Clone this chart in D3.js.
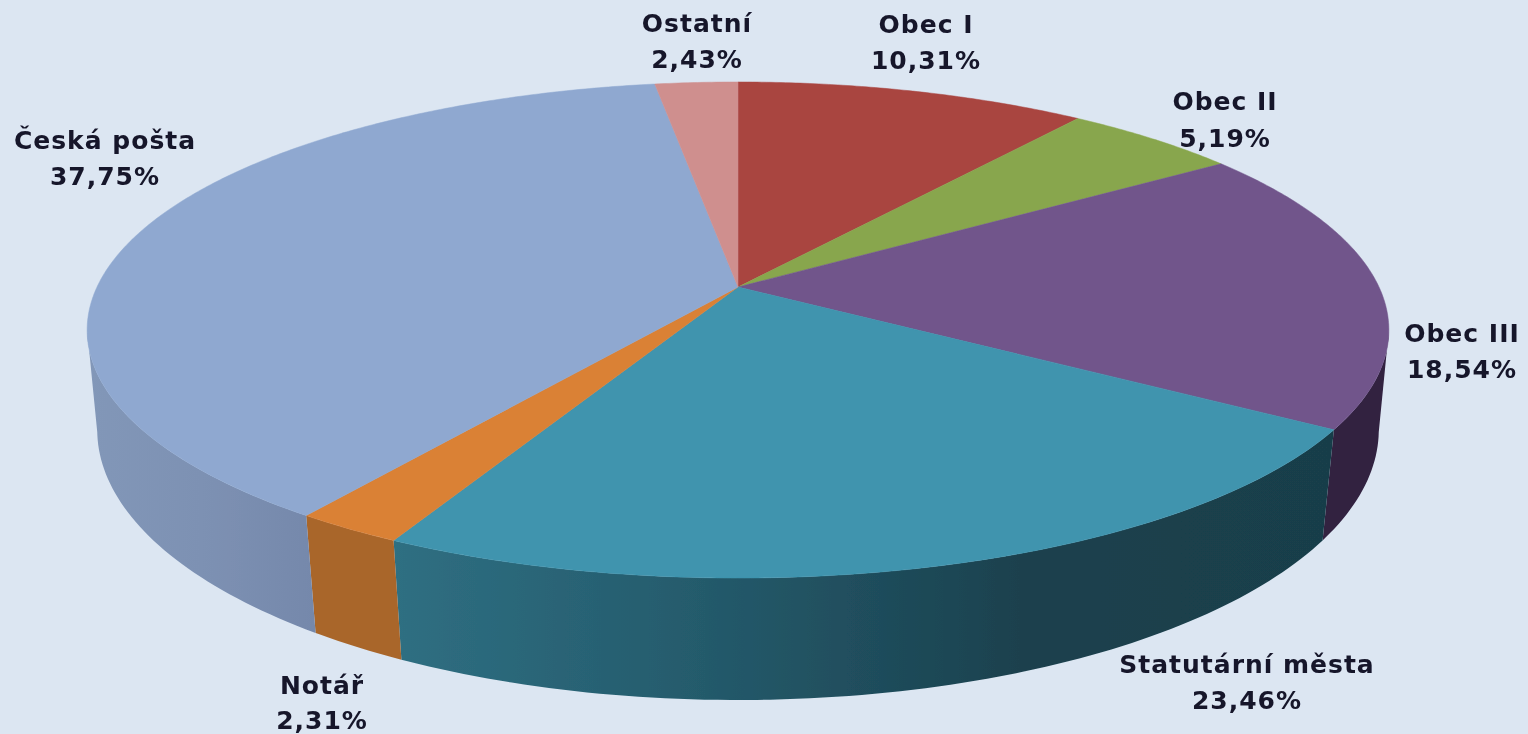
<!DOCTYPE html>
<html>
<head>
<meta charset="utf-8">
<script src="https://cdn.jsdelivr.net/npm/d3@7"></script>
<style>
	html, body { margin: 0; padding: 0; background: #dce6f2; overflow: hidden; }
	svg { display: block; }
	text { font-family: "DejaVu Sans", sans-serif; font-weight: bold; font-size: 25px; letter-spacing: 1px; fill: #15152a; text-anchor: middle; }
</style>
</head>
<body>
<div id="chart"></div>
<script>
// values, clockwise from 12 o'clock
const categories = ["Obec I", "Obec II", "Obec III", "Statutární města", "Notář", "Česká pošta", "Ostatní"];
const shares = [10.31, 5.19, 18.54, 23.46, 2.31, 37.75, 2.43];
const shareLabels = ["10,31%", "5,19%", "18,54%", "23,46%", "2,31%", "37,75%", "2,43%"];

const topColors = ["#a94441", "#88a64d", "#71558b", "#3f94ae", "#da8136", "#8fa8d0", "#cf8f8e"];
// wall shading, left to right across each slice
const wallColors = [
	["#6a2a28", "#6a2a28"],
	["#55682f", "#55682f"],
	["#30203f", "#30203f"],
	["#2f6f82", "#245a6b", "#1b414e", "#193e4a"],
	["#a9662b", "#a9662b"],
	["#8297b8", "#7d91b3", "#7588ab"],
	["#815958", "#815958"]
];

// where each label sits: centre x, first baseline, second baseline
const labelSpots = [
	[926, 33, 69], [1225, 110, 147], [1462, 342, 378], [1247, 673, 709],
	[322, 694, 729], [105, 149, 185], [697, 32, 68]
];

const width = 1528, height = 734;
const cx = 738;

// the disc is tilted, so both rims are a circle seen through a perspective
const topRim = { r: 641, c: -0.1734, a: 190.8, b: 287 };
const bottomRim = { r: 632, c: -0.165, a: 199.4, b: 385.1 };

function project(rim, u, v) {
	const w = 1 + rim.c * v;
	return [cx + rim.r * u / w, (rim.a * v + rim.b) / w];
}
function onRim(rim, angle) {
	return project(rim, Math.sin(angle), -Math.cos(angle));
}

const svg = d3.select("#chart").append("svg")
	.attr("width", width)
	.attr("height", height);

const defs = svg.append("defs");
defs.append("filter")
	.attr("id", "soft")
	.append("feGaussianBlur")
	.attr("stdDeviation", 0.55);

const pie = d3.pie().sort(null).value(d => d)
	.startAngle(0).endAngle(2 * Math.PI);
const slices = pie(shares);

const line = d3.line();
const step = Math.PI / 180;
const disc = svg.append("g").attr("filter", "url(#soft)");

// Side wall first, from the widest point on the right round to the one on the left
const wallFrom = 100 * step, wallTo = 260 * step;
slices.forEach((s, i) => {
	const a0 = Math.max(s.startAngle, wallFrom);
	const a1 = Math.min(s.endAngle, wallTo);
	if (a1 <= a0) return;

	const angles = d3.range(a0, a1, step).concat([a1]);
	const upper = angles.map(a => onRim(topRim, a));
	const lower = angles.map(a => onRim(bottomRim, a)).reverse();
	const pts = upper.concat(lower);

	const grad = defs.append("linearGradient")
		.attr("id", "wall" + i)
		.attr("gradientUnits", "userSpaceOnUse")
		.attr("x1", d3.min(pts, p => p[0])).attr("y1", 0)
		.attr("x2", d3.max(pts, p => p[0])).attr("y2", 0);
	wallColors[i].forEach((c, k) => {
		grad.append("stop")
			.attr("offset", k / (wallColors[i].length - 1))
			.attr("stop-color", c);
	});

	disc.append("path")
		.attr("d", line(pts) + "Z")
		.attr("fill", "url(#wall" + i + ")");
});

// Top face
slices.forEach((s, i) => {
	const angles = d3.range(s.startAngle, s.endAngle, step / 2).concat([s.endAngle]);
	const pts = [project(topRim, 0, 0)].concat(angles.map(a => onRim(topRim, a)));
	disc.append("path")
		.attr("d", line(pts) + "Z")
		.attr("fill", topColors[i])
		.attr("stroke", topColors[i])
		.attr("stroke-width", 0.5);
});

// Labels
const labels = svg.append("g").attr("filter", "url(#soft)");
categories.forEach((name, i) => {
	const [x, y1, y2] = labelSpots[i];
	labels.append("text").attr("x", x).attr("y", y1).text(name);
	labels.append("text").attr("x", x).attr("y", y2).text(shareLabels[i]);
});
</script>
</body>
</html>
